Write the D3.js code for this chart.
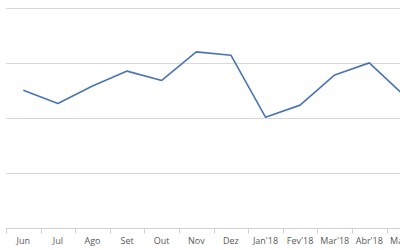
<!DOCTYPE html>
<html>
<head>
<meta charset="utf-8">
<script src="https://cdn.jsdelivr.net/npm/d3@7"></script>
<style>
  body { margin: 0; background: #fff; }
  svg { display: block; }
  .axis text { font-family: "Open Sans", "Liberation Sans", sans-serif; font-size: 9px; fill: #595959; }
</style>
</head>
<body>
<div id="chart"></div>
<script>
// months shown (chart is cropped on the right, Mai'18 is cut off)
var months = ["Jun", "Jul", "Ago", "Set", "Out", "Nov", "Dez", "Jan'18", "Fev'18", "Mar'18", "Abr'18", "Mai'18"];
var values = [2.50, 2.26, 2.58, 2.85, 2.68, 3.20, 3.14, 2.01, 2.23, 2.78, 3.00, 2.41];
var yTicks = [0, 1, 2, 3, 4];

var width = 400, height = 250;
var plotLeft = 6, bandW = 34.6;
var plotTop = 8, plotBottom = 227.5;

var svg = d3.select("#chart").append("svg")
    .attr("width", width)
    .attr("height", height);

var x = d3.scaleBand().domain(months).range([plotLeft, plotLeft + bandW * months.length]);
var y = d3.scaleLinear().domain([0, 4]).range([plotBottom, plotTop]);

// gridlines
svg.append("g")
    .selectAll("line")
    .data(yTicks.slice(1))
    .enter().append("line")
    .attr("x1", plotLeft)
    .attr("x2", width + 30)
    .attr("y1", function(d) { return Math.round(y(d)) + 0.5; })
    .attr("y2", function(d) { return Math.round(y(d)) + 0.5; })
    .attr("stroke", "#d9d9d9")
    .attr("stroke-width", 1);

// x axis
var xAxis = svg.append("g")
    .attr("class", "axis")
    .attr("transform", "translate(0," + (Math.round(plotBottom) + 0.5) + ")");
xAxis.append("line")
    .attr("x1", plotLeft).attr("x2", width + 30)
    .attr("stroke", "#d0d0d0");
xAxis.selectAll(".tk")
    .data(months)
    .enter().append("line")
    .attr("class", "tk")
    .attr("x1", function(d) { return Math.round(x(d)) + 0.5; })
    .attr("x2", function(d) { return Math.round(x(d)) + 0.5; })
    .attr("y1", 0).attr("y2", 5)
    .attr("stroke", "#d0d0d0");
xAxis.selectAll("text")
    .data(months)
    .enter().append("text")
    .attr("x", function(d) { return x(d) + x.bandwidth() / 2; })
    .attr("y", 15)
    .attr("text-anchor", "middle")
    .text(function(d) { return d; });

// line
var line = d3.line()
    .x(function(d, i) { return x(months[i]) + x.bandwidth() / 2; })
    .y(function(d) { return y(d); });

svg.append("path")
    .datum(values)
    .attr("fill", "none")
    .attr("stroke", "#4a75b5")
    .attr("stroke-width", 1.6)
    .attr("stroke-linejoin", "round")
    .attr("d", line);
</script>
</body>
</html>
